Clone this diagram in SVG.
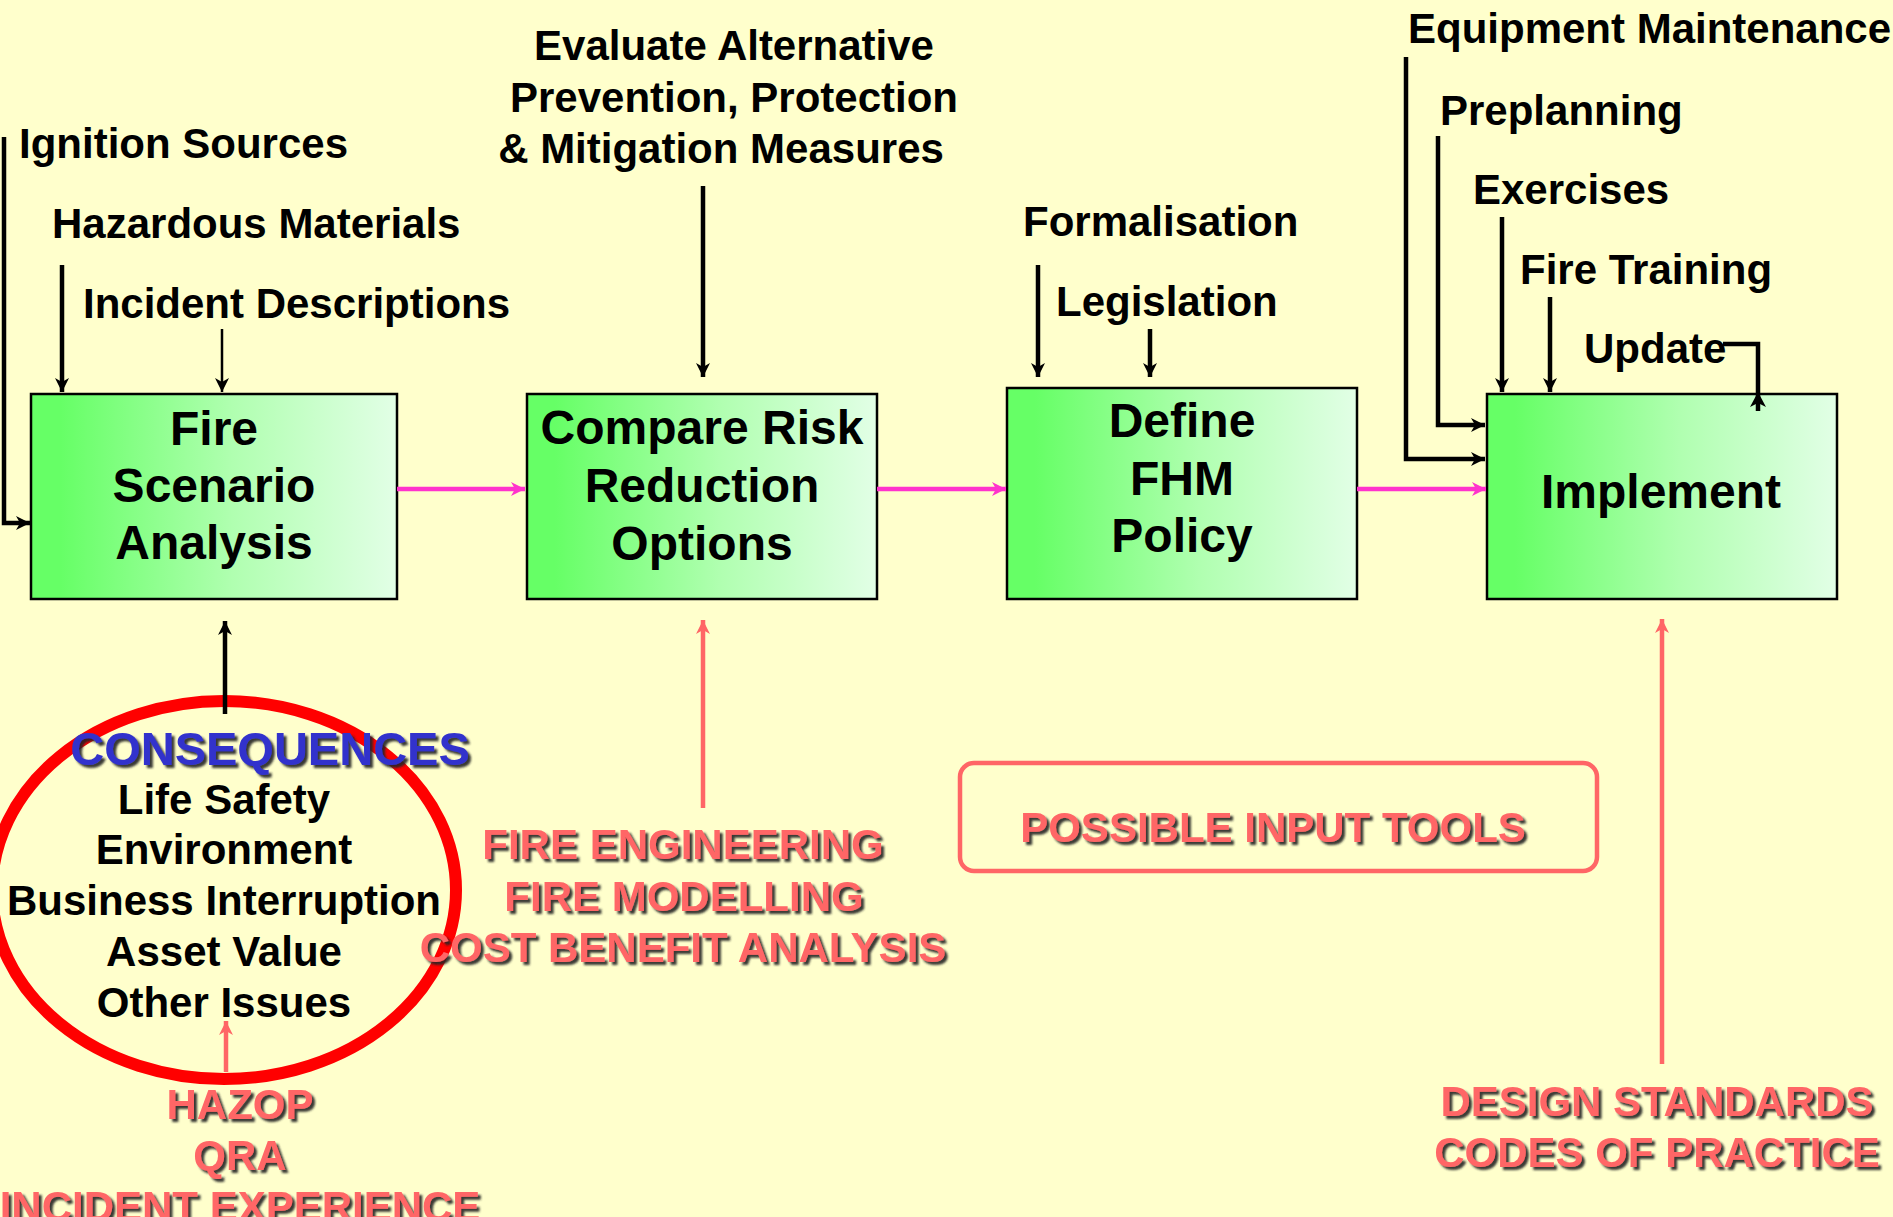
<svg xmlns="http://www.w3.org/2000/svg" width="1893" height="1217" viewBox="0 0 1893 1217">
<style>
.t{font-family:"Liberation Sans",Arial,Helvetica,sans-serif;font-weight:bold;font-size:42px;fill:#000}
.bt{font-size:48px;text-anchor:middle}
.mid{text-anchor:middle}
.tool{fill:#FF6666;filter:url(#sh)}
.cons{fill:#3333CC;filter:url(#sh);font-size:47px}
.box{fill:url(#g);stroke:#000;stroke-width:2.5}
.blk{fill:none;stroke:#000;stroke-width:4.5;stroke-linejoin:miter}
.thin{stroke-width:2.5}
.mag{fill:none;stroke:#FF33CC;stroke-width:4.5}
.pink{fill:none;stroke:#FF6666;stroke-width:4.5}
</style>
<defs>
<linearGradient id="g" x1="0" y1="0" x2="1" y2="0">
<stop offset="0" stop-color="#66FF66"/>
<stop offset="0.08" stop-color="#66FF66"/>
<stop offset="0.55" stop-color="#B0FFB0"/>
<stop offset="1" stop-color="#E2FFE6"/>
</linearGradient>
<filter id="sh" x="-5%" y="-20%" width="110%" height="140%">
<feDropShadow dx="3" dy="3" stdDeviation="1" flood-color="#222" flood-opacity="0.9"/>
</filter>
<marker id="ab" markerUnits="userSpaceOnUse" markerWidth="16" markerHeight="16" refX="14" refY="7" orient="auto" viewBox="0 0 16 14">
<path d="M0,0 L14,7 L0,14 L4,7 z" fill="#000"/>
</marker>
<marker id="am" markerUnits="userSpaceOnUse" markerWidth="16" markerHeight="16" refX="14" refY="7" orient="auto" viewBox="0 0 16 14">
<path d="M0,0 L14,7 L0,14 L4,7 z" fill="#FF33CC"/>
</marker>
<marker id="ap" markerUnits="userSpaceOnUse" markerWidth="16" markerHeight="16" refX="14" refY="7" orient="auto" viewBox="0 0 16 14">
<path d="M0,0 L14,7 L0,14 L4,7 z" fill="#FF6666"/>
</marker>
</defs>
<rect x="0" y="0" width="1893" height="1217" fill="#FFFFCC"/>

<g id="label-ignition"><text class="t" x="19" y="158">Ignition Sources</text></g>
<g id="label-hazardous"><text class="t" x="52" y="238">Hazardous Materials</text></g>
<g id="label-incident"><text class="t" x="83" y="318">Incident Descriptions</text></g>
<g id="label-evaluate">
<text class="t mid" x="734" y="60">Evaluate Alternative</text>
<text class="t mid" x="734" y="112">Prevention, Protection</text>
<text class="t mid" x="721" y="163">&amp; Mitigation Measures</text>
</g>
<g id="label-formalisation"><text class="t" x="1023" y="236">Formalisation</text></g>
<g id="label-legislation"><text class="t" x="1056" y="316">Legislation</text></g>
<g id="label-equipment"><text class="t" x="1408" y="43">Equipment Maintenance</text></g>
<g id="label-preplanning"><text class="t" x="1440" y="125">Preplanning</text></g>
<g id="label-exercises"><text class="t" x="1473" y="204">Exercises</text></g>
<g id="label-firetraining"><text class="t" x="1520" y="284">Fire Training</text></g>
<g id="label-update"><text class="t" x="1584" y="363">Update</text></g>

<g id="node-fire-scenario">
<rect class="box" x="31" y="394" width="366" height="205"/>
<text class="t bt" x="214" y="445">Fire</text>
<text class="t bt" x="214" y="502">Scenario</text>
<text class="t bt" x="214" y="559">Analysis</text>
</g>
<g id="node-compare-risk">
<rect class="box" x="527" y="394" width="350" height="205"/>
<text class="t bt" x="702" y="444">Compare Risk</text>
<text class="t bt" x="702" y="502">Reduction</text>
<text class="t bt" x="702" y="560">Options</text>
</g>
<g id="node-define-policy">
<rect class="box" x="1007" y="388" width="350" height="211"/>
<text class="t bt" x="1182" y="437">Define</text>
<text class="t bt" x="1182" y="495">FHM</text>
<text class="t bt" x="1182" y="552">Policy</text>
</g>
<g id="node-implement">
<rect class="box" x="1487" y="394" width="350" height="205"/>
<text class="t bt" x="1661" y="508">Implement</text>
</g>

<g id="node-consequences">
<ellipse cx="224" cy="890" rx="232" ry="189" fill="none" stroke="#FF0000" stroke-width="12"/>
<text class="t mid cons" x="270" y="765">CONSEQUENCES</text>
<text class="t mid" x="224" y="814">Life Safety</text>
<text class="t mid" x="224" y="864">Environment</text>
<text class="t mid" x="224" y="915">Business Interruption</text>
<text class="t mid" x="224" y="966">Asset Value</text>
<text class="t mid" x="224" y="1017">Other Issues</text>
</g>

<g id="tools-hazop">
<text class="t mid tool" x="240" y="1119">HAZOP</text>
<text class="t mid tool" x="240" y="1170">QRA</text>
<text class="t mid tool" x="240" y="1221">INCIDENT EXPERIENCE</text>
</g>
<g id="tools-fire-engineering">
<text class="t mid tool" x="683" y="859">FIRE ENGINEERING</text>
<text class="t mid tool" x="684" y="911">FIRE MODELLING</text>
<text class="t mid tool" x="683" y="962">COST BENEFIT ANALYSIS</text>
</g>
<g id="node-possible-input-tools">
<rect x="960" y="763" width="637" height="108" rx="14" fill="none" stroke="#FF6666" stroke-width="4.5"/>
<text class="t mid tool" x="1273" y="842">POSSIBLE INPUT TOOLS</text>
</g>
<g id="tools-design-standards">
<text class="t mid tool" x="1657" y="1116">DESIGN STANDARDS</text>
<text class="t mid tool" x="1657" y="1167">CODES OF PRACTICE</text>
</g>

<g id="connectors">
<path class="blk" d="M4,137 V523 H30" marker-end="url(#ab)"/>
<path class="blk" d="M62,265 V392" marker-end="url(#ab)"/>
<path class="blk thin" d="M222,329 V392" marker-end="url(#ab)"/>
<path class="blk" d="M703,186 V377" marker-end="url(#ab)"/>
<path class="blk" d="M1038,265 V377" marker-end="url(#ab)"/>
<path class="blk" d="M1150,329 V377" marker-end="url(#ab)"/>
<path class="blk" d="M1406,57 V459 H1485" marker-end="url(#ab)"/>
<path class="blk" d="M1438,136 V425 H1485" marker-end="url(#ab)"/>
<path class="blk" d="M1502,217 V392" marker-end="url(#ab)"/>
<path class="blk" d="M1550,297 V392" marker-end="url(#ab)"/>
<path class="blk" d="M1723,344 H1758 V411"/>
<path d="M1758,392 L1766,407 L1758,403 L1750,407 z" fill="#000"/>
<path class="mag" d="M397,489 H525" marker-end="url(#am)"/>
<path class="mag" d="M877,489 H1006" marker-end="url(#am)"/>
<path class="mag" d="M1357,489 H1486" marker-end="url(#am)"/>
<path class="blk" d="M225,714 V621" marker-end="url(#ab)"/>
<path class="pink" d="M703,808 V620" marker-end="url(#ap)"/>
<path class="pink" d="M1662,1064 V619" marker-end="url(#ap)"/>
<path class="pink" d="M226,1072 V1021" marker-end="url(#ap)"/>
</g>
</svg>
